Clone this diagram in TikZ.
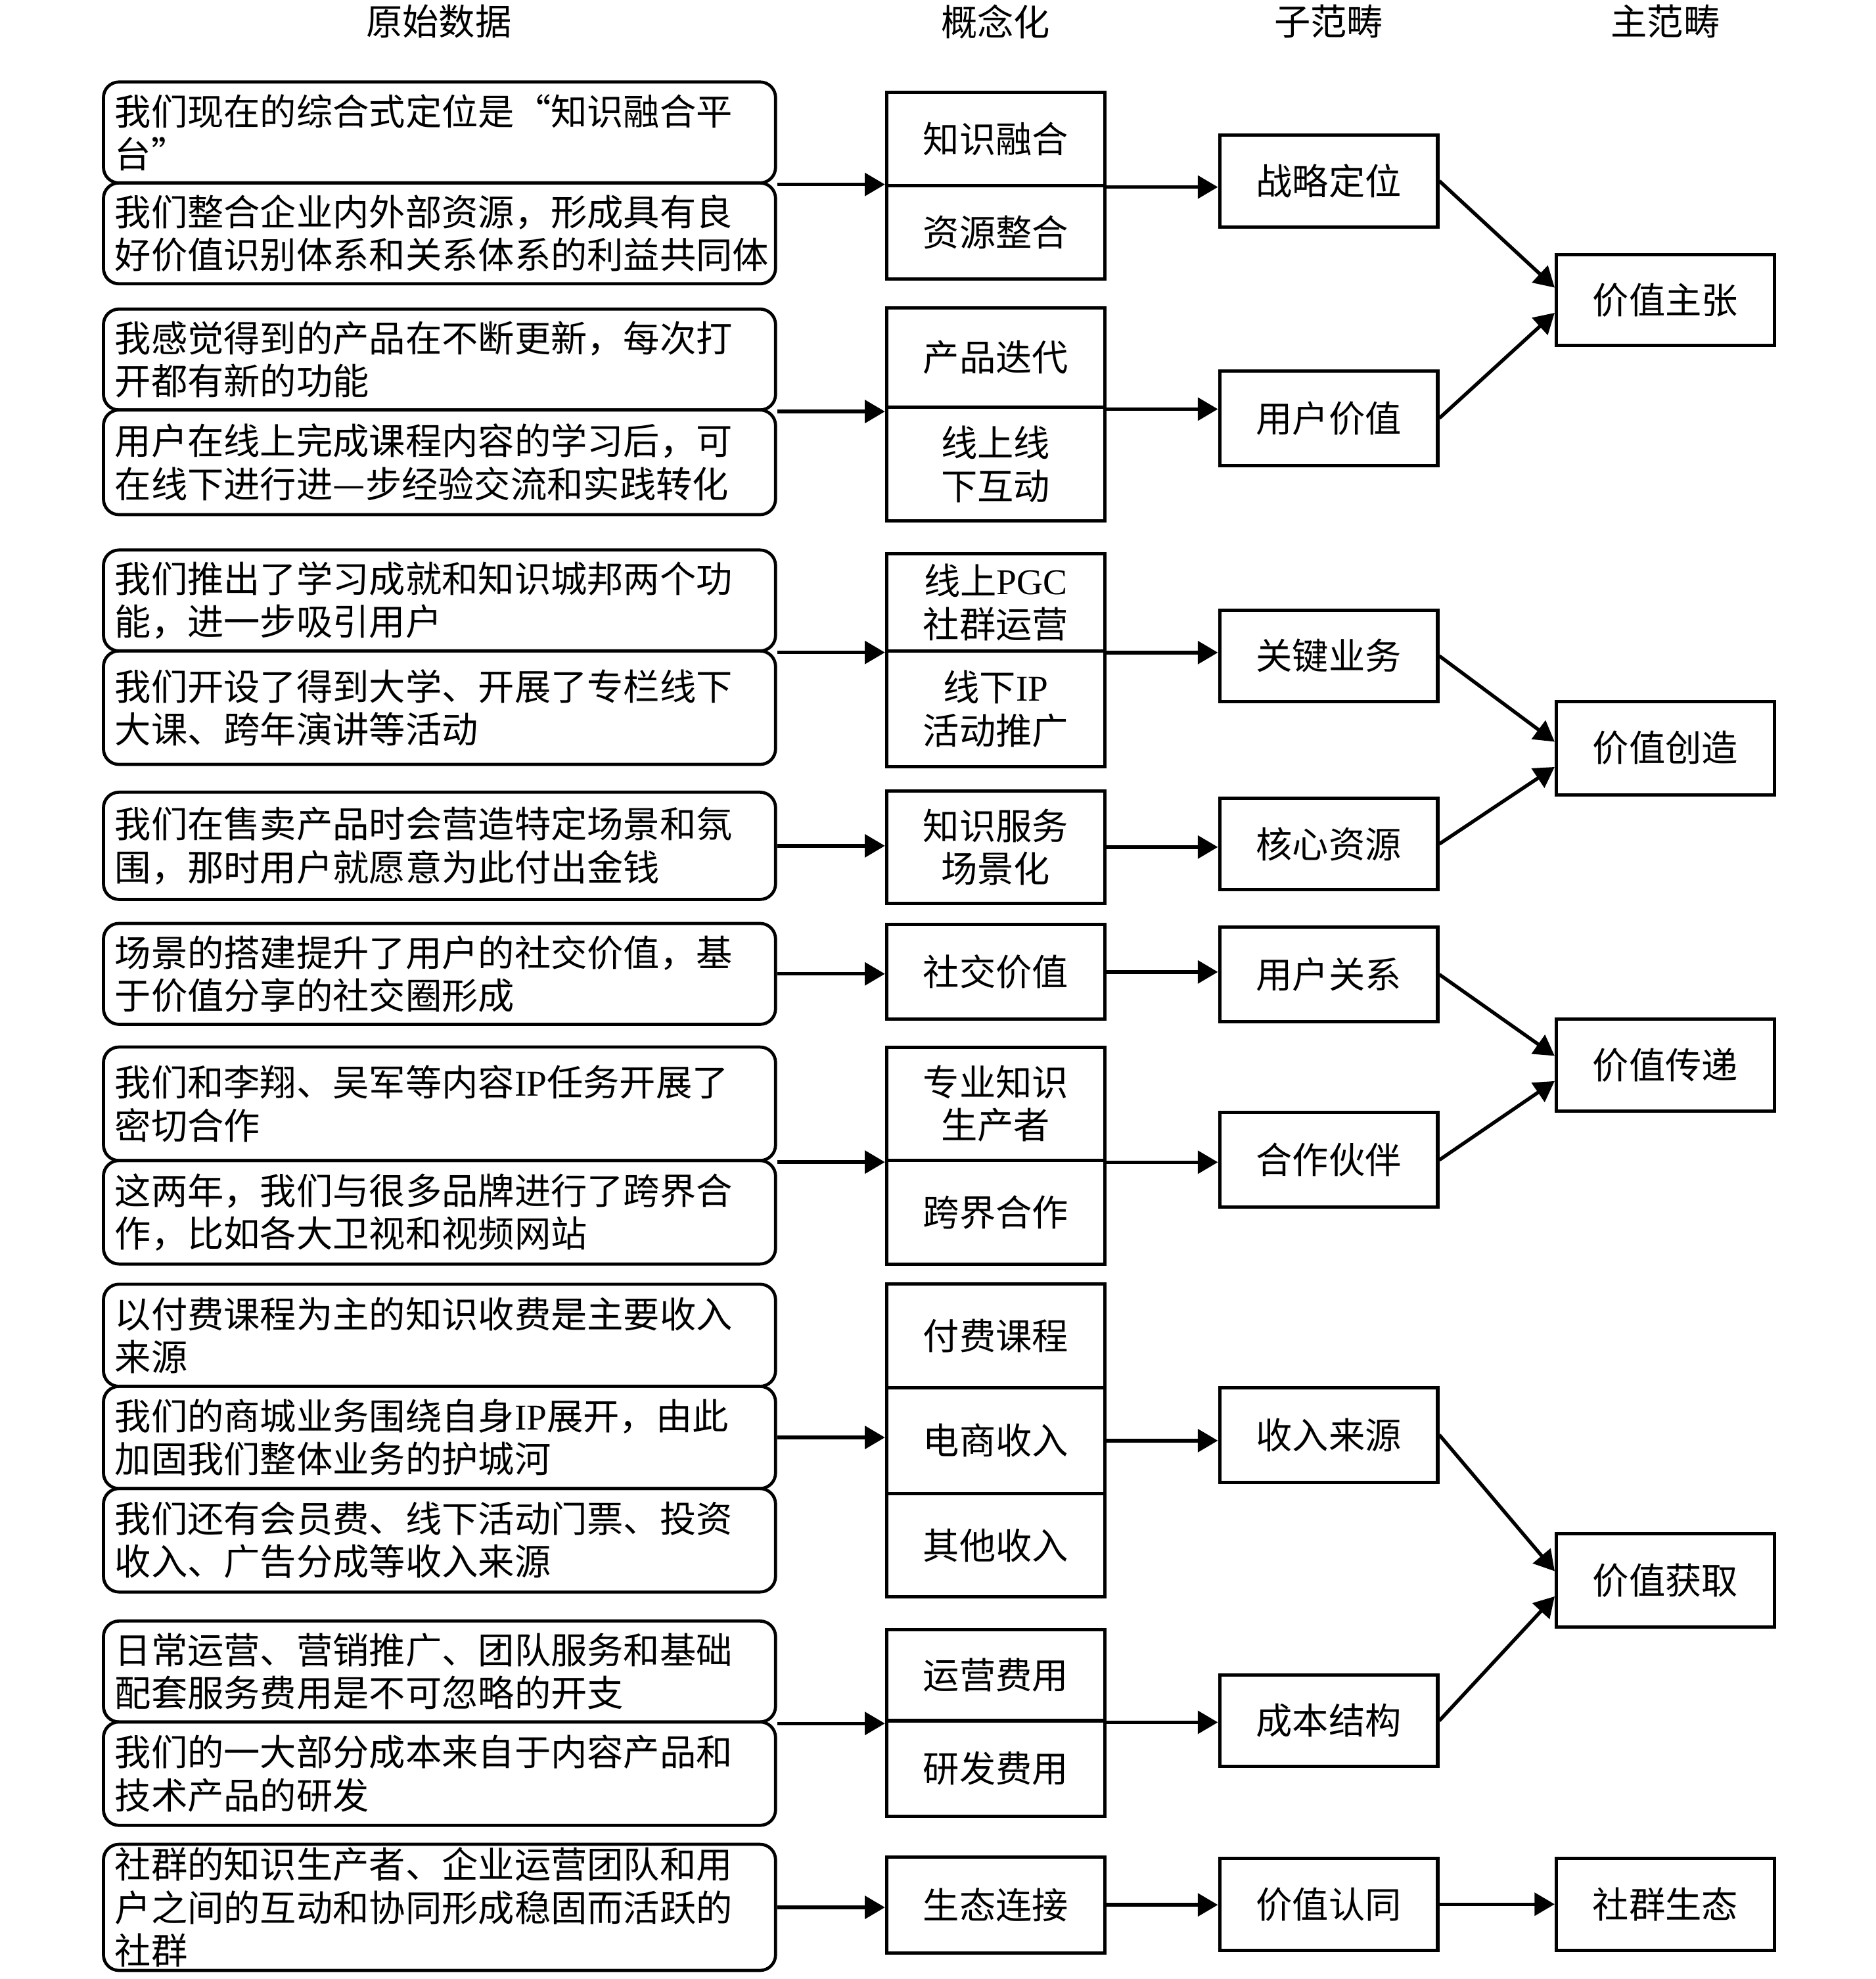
\documentclass[tikz,border=0pt]{standalone}
\usepackage{fontspec}
\setmainfont{Noto Sans CJK SC}
\newfontfamily\lat{Liberation Serif}
\usetikzlibrary{arrows.meta}

\tikzset{
raw/.style={draw,line width=1.4pt,rounded corners=7pt,minimum width=10.66cm,text width=10.3cm,inner xsep=0.18cm,inner ysep=0pt,align=left},
con/.style={draw,line width=1.5pt,minimum width=3.46cm,inner sep=0pt,align=center},
arr/.style={line width=1.6pt,-{Triangle[length=0.32cm,width=0.36cm]}}
}

\begin{document}
\begin{tikzpicture}[x=0.02cm,y=-0.02cm,font=\fontsize{16.4pt}{19.4pt}\selectfont]
\useasboundingbox (0,0) rectangle (1487,1568.8);

% column heads
\node (h1) at (348,17) {原始数据};
\node (h2) at (789.5,17) {概念化};
\node (h3) at (1053.5,17) {子范畴};
\node (h4) at (1320.5,17) {主范畴};

% raw data
\node[raw,minimum height=1.6cm] (r1a) at (348.5,105) {我们现在的综合式定位是“知识融合平\\台”};
\node[raw,minimum height=1.6cm] (r1b) at (348.5,185) {我们整合企业内外部资源，形成具有良\\好价值识别体系和关系体系的利益共同体};
\node[raw,minimum height=1.6cm] (r2a) at (348.5,285) {我感觉得到的产品在不断更新，每次打\\开都有新的功能};
\node[raw,minimum height=1.66cm] (r2b) at (348.5,366.5) {用户在线上完成课程内容的学习后，可\\在线下进行进—步经验交流和实践转化};
\node[raw,minimum height=1.6cm] (r3a) at (348.5,476) {我们推出了学习成就和知识城邦两个功\\能，进一步吸引用户};
\node[raw,minimum height=1.8cm] (r3b) at (348.5,561) {我们开设了得到大学、开展了专栏线下\\大课、跨年演讲等活动};
\node[raw,minimum height=1.7cm] (r4) at (348.5,670.5) {我们在售卖产品时会营造特定场景和氛\\围，那时用户就愿意为此付出金钱};
\node[raw,minimum height=1.6cm] (r5) at (348.5,772) {场景的搭建提升了用户的社交价值，基\\于价值分享的社交圈形成};
\node[raw,minimum height=1.8cm] (r6a) at (348.5,875) {我们和李翔、吴军等内容{\lat IP}任务开展了\\密切合作};
\node[raw,minimum height=1.64cm] (r6b) at (348.5,961) {这两年，我们与很多品牌进行了跨界合\\作，比如各大卫视和视频网站};
\node[raw,minimum height=1.62cm] (r7a) at (348.5,1058.5) {以付费课程为主的知识收费是主要收入\\来源};
\node[raw,minimum height=1.62cm] (r7b) at (348.5,1139.5) {我们的商城业务围绕自身{\lat IP}展开，由此\\加固我们整体业务的护城河};
\node[raw,minimum height=1.64cm] (r7c) at (348.5,1221) {我们还有会员费、线下活动门票、投资\\收入、广告分成等收入来源};
\node[raw,minimum height=1.6cm] (r8a) at (348.5,1325) {日常运营、营销推广、团队服务和基础\\配套服务费用是不可忽略的开支};
\node[raw,minimum height=1.64cm] (r8b) at (348.5,1406) {我们的一大部分成本来自于内容产品和\\技术产品的研发};
\node[raw,minimum height=2cm] (r9) at (348.5,1512) {社群的知识生产者、企业运营团队和用\\户之间的互动和协同形成稳固而活跃的\\社群};

% concepts
\node[con,minimum height=1.48cm] (k1a) at (789.5,110) {知识融合};
\node[con,minimum height=1.48cm] (k1b) at (789.5,184) {资源整合};
\node[con,minimum height=1.58cm] (k2a) at (789.5,283.5) {产品迭代};
\node[con,minimum height=1.8cm] (k2b) at (789.5,368) {线上线\\下互动};
\node[con,minimum height=1.54cm] (k3a) at (789.5,477.5) {线上{\lat PGC}\\社群运营};
\node[con,minimum height=1.84cm] (k3b) at (789.5,562) {线下{\lat IP}\\活动推广};
\node[con,minimum height=1.78cm] (k4) at (789.5,671.5) {知识服务\\场景化};
\node[con,minimum height=1.5cm] (k5) at (789.5,770.5) {社交价值};
\node[con,minimum height=1.8cm] (k6a) at (789.5,875) {专业知识\\生产者};
\node[con,minimum height=1.64cm] (k6b) at (789.5,961) {跨界合作};
\node[con,minimum height=1.64cm] (k7a) at (789.5,1059) {付费课程};
\node[con,minimum height=1.68cm] (k7b) at (789.5,1142) {电商收入};
\node[con,minimum height=1.64cm] (k7c) at (789.5,1225) {其他收入};
\node[con,minimum height=1.44cm] (k8a) at (789.5,1328) {运营费用};
\node[con,minimum height=1.52cm] (k8b) at (789.5,1402) {研发费用};
\node[con,minimum height=1.52cm] (k9) at (789.5,1510) {生态连接};

% sub categories
\node[con,minimum height=1.46cm] (s1) at (1053.5,143.5) {战略定位};
\node[con,minimum height=1.5cm] (s2) at (1053.5,331.5) {用户价值};
\node[con,minimum height=1.44cm] (s3) at (1053.5,520) {关键业务};
\node[con,minimum height=1.44cm] (s4) at (1053.5,669) {核心资源};
\node[con,minimum height=1.5cm] (s5) at (1053.5,772.5) {用户关系};
\node[con,minimum height=1.5cm] (s6) at (1053.5,919.5) {合作伙伴};
\node[con,minimum height=1.5cm] (s7) at (1053.5,1137.5) {收入来源};
\node[con,minimum height=1.44cm] (s8) at (1053.5,1364) {成本结构};
\node[con,minimum height=1.46cm] (s9) at (1053.5,1509.5) {价值认同};

% main categories
\node[con,minimum height=1.44cm] (m1) at (1320.5,238) {价值主张};
\node[con,minimum height=1.48cm] (m2) at (1320.5,593) {价值创造};
\node[con,minimum height=1.46cm] (m3) at (1320.5,844.5) {价值传递};
\node[con,minimum height=1.48cm] (m4) at (1320.5,1253) {价值获取};
\node[con,minimum height=1.46cm] (m5) at (1320.5,1509.5) {社群生态};

% raw -> concept
\draw[arr] (r1a.south east) -- (r1a.south east -| k1a.west);
\draw[arr] (r2a.south east) -- (r2a.south east -| k2a.west);
\draw[arr] (r3a.south east) -- (r3a.south east -| k3a.west);
\draw[arr] (r4.east) -- (r4.east -| k4.west);
\draw[arr] (r5.east) -- (r5.east -| k5.west);
\draw[arr] (r6a.south east) -- (r6a.south east -| k6a.west);
\draw[arr] (r7b.east) -- (r7b.east -| k7b.west);
\draw[arr] (r8a.south east) -- (r8a.south east -| k8a.west);
\draw[arr] (r9.east) -- (r9.east -| k9.west);

% concept -> sub
\draw[arr] (k1a.south east) -- (k1a.south east -| s1.west);
\draw[arr] (k2a.south east) -- (k2a.south east -| s2.west);
\draw[arr] (k3a.south east) -- (k3a.south east -| s3.west);
\draw[arr] (k4.east) -- (k4.east -| s4.west);
\draw[arr] (k5.east) -- (k5.east -| s5.west);
\draw[arr] (k6a.south east) -- (k6a.south east -| s6.west);
\draw[arr] (k7b.east) -- (k7b.east -| s7.west);
\draw[arr] (k8a.south east) -- (k8a.south east -| s8.west);
\draw[arr] (k9.east) -- (k9.east -| s9.west);

% sub -> main
\draw[arr] (s1.east) -- ([yshift=0.2cm]m1.west);
\draw[arr] (s2.east) -- ([yshift=-0.2cm]m1.west);
\draw[arr] (s3.east) -- ([yshift=0.1cm]m2.west);
\draw[arr] (s4.east) -- ([yshift=-0.3cm]m2.west);
\draw[arr] (s5.east) -- ([yshift=0.15cm]m3.west);
\draw[arr] (s6.east) -- ([yshift=-0.25cm]m3.west);
\draw[arr] (s7.east) -- ([yshift=0.15cm]m4.west);
\draw[arr] (s8.east) -- ([yshift=-0.25cm]m4.west);
\draw[arr] (s9.east) -- (s9.east -| m5.west);

\end{tikzpicture}
\end{document}
